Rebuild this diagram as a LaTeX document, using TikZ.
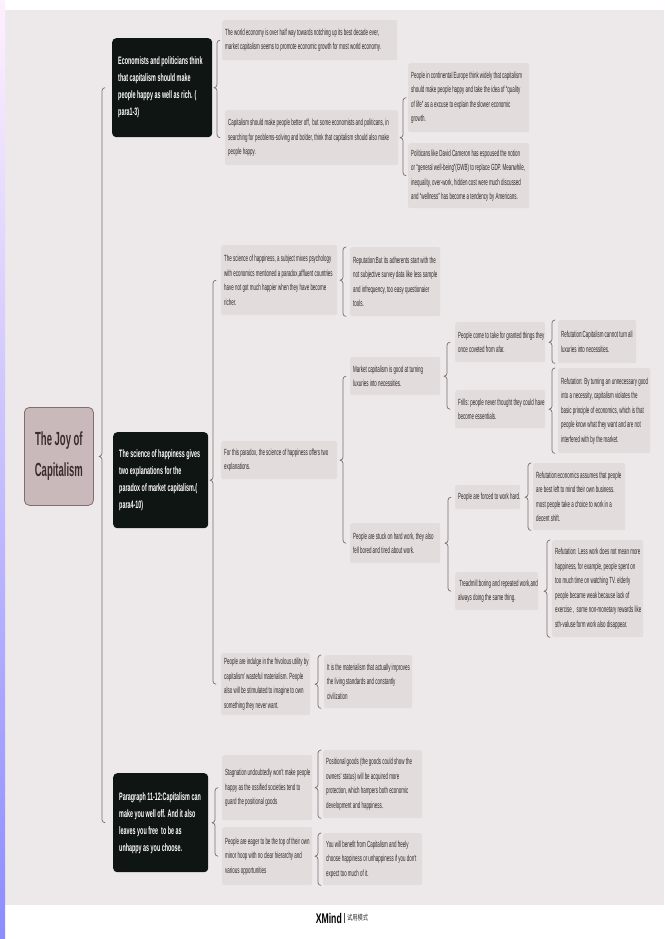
\documentclass[tikz,border=0pt]{standalone}
\usepackage{fontspec}
\setmainfont{Liberation Sans}[FakeStretch=0.5]
\newfontfamily\cjk{Noto Sans CJK SC}[FakeStretch=0.7]
\newfontfamily\xmf{Liberation Sans}[FakeStretch=0.62]
\usetikzlibrary{calc}
\definecolor{bgc}{HTML}{EDE9EA}
\definecolor{boxf}{HTML}{E2DCDD}
\definecolor{txtc}{HTML}{2F2627}
\definecolor{rootf}{HTML}{C9B9BA}
\definecolor{rootb}{HTML}{7F6F71}
\definecolor{roott}{HTML}{3A2B2D}
\definecolor{darkf}{HTML}{0F1512}
\definecolor{brcc}{HTML}{7B6B6E}
\tikzset{
  lvlroot/.style={draw=rootb, line width=0.8pt, fill=rootf, rounded corners=5pt, text=roott,
    font=\fontsize{19}{31}\selectfont\bfseries, align=center, anchor=north west, inner sep=0pt},
  lvlone/.style={fill=darkf, rounded corners=4pt, anchor=north west, inner sep=0pt},
  lvlone text/.style={text=white, font=\fontsize{10.8}{17}\selectfont\bfseries, align=left,
    anchor=west, inner sep=0pt, xshift=6pt},
  txtbox/.style={fill=boxf, rounded corners=2pt, anchor=north west, inner sep=0pt},
  txtbox text/.style={text=txtc, font=\fontsize{8.9}{14.5}\selectfont, align=left,
    anchor=west, inner sep=0pt, xshift=3pt},
  brc/.style={draw=brcc, line width=0.7pt, line cap=round, line join=round}
}
% \bx{style}{name}{x}{y}{w}{h}{text}
\newcommand{\bx}[7]{%
  \node[#1, minimum width=#5pt, minimum height=#6pt] (#2) at (#3,#4) {};
  \node[#1 text] (#2t) at (#2.west) {#7};}
% \brc[offset]{parent}{top point}{bottom point}
\newcommand{\brc}[4][6]{%
  \def\xbb{\x1-#1pt}%
  \draw[brc] let \p0=(#2.east), \p1=(#3), \p2=(#4) in
    ({\xbb+3pt},\y1) to[out=180,in=90] ({\xbb},{\y1-3pt})
    -- ({\xbb},{\y0+3pt}) to[out=-90,in=0] ({\xbb-3pt},\y0)
    to[out=0,in=90] ({\xbb},{\y0-3pt})
    -- ({\xbb},{\y2+3pt}) to[out=-90,in=180] ({\xbb+3pt},\y2);
}
\begin{document}
\begin{tikzpicture}[x=1pt,y=-1pt]
\useasboundingbox (0,0) rectangle (664,939);
\fill[white] (0,0) rectangle (664,939);
\fill[bgc] (5,10) rectangle (664,905);
\shade[top color=white!85!magenta!40!white, bottom color=blue!45!white] (0,0) rectangle (5,939);

% root
\node[lvlroot, minimum width=69pt, minimum height=98pt] (root) at (24,407) {The Joy of\\Capitalism};

% level 1
\bx{lvlone}{a}{112}{38}{100}{99}{Economists and politicians think\\that capitalism should make\\people happy as well as rich. (\\para1-3)}
\bx{lvlone}{b}{113}{432}{95}{96}{The science of happiness gives\\two explanations for the\\paradox of market capitalism.(\\para4-10)}
\bx{lvlone}{c}{113}{773}{95}{99}{Paragraph 11-12:Capitalism can\\make you well off. And it also\\leaves you free\ \ to be as\\unhappy as you choose.}

% under a
\bx{txtbox}{a1}{222}{20}{175}{40}{The world economy is over half way towards notching up its best decade ever,\\market capitalism seems to promote economic growth for most world economy.}
\bx{txtbox}{a2}{225}{110}{173}{55}{Capitalism should make people better off,\ \ but some economists and politicans, in\\searching for peoblems-solving and bolder, think that capitalism should also make\\people happy.}
\bx{txtbox}{a21}{408}{63}{121}{69}{People in continental Europe think widely that capitalism\\should make people happy and take the idea of ``quality\\of life'' as a excuse to explain the slower economic\\growth.}
\bx{txtbox}{a22}{408}{143}{121}{65}{Politicans like David Cameron has espoused the notion\\or ``general well-being''(GWB) to replace GDP. Meanwhile,\\inequality, over-work, hidden cost were much discussed\\and ``wellness'' has become a tendency by Americans.}

% under b
\bx{txtbox}{b1}{221}{245}{116}{70}{The science of happiness, a subject mixes psychology\\with economics mentioned a paradox,affluent countries\\have not got much happier when they have become\\richer.}
\bx{txtbox}{b11}{350}{247}{90}{69}{Reputation:But its adherents start with the\\not subjective survey data like less sample\\and infrequency, too easy questionaier\\tools.}
\bx{txtbox}{b2}{221}{441}{116}{38}{For this paradox, the science of happiness offers two\\explanations.}
\bx{txtbox}{b21}{350}{357}{90}{38}{Market capitalism is good at turning\\luxuries into necessities.}
\bx{txtbox}{b22}{350}{523}{90}{40}{People are stuck on hard work, they also\\fell bored and tired about work.}
\bx{txtbox}{b211}{455}{322}{90}{40}{People come to take for granted things they\\once coveted from afar.}
\bx{txtbox}{b212}{455}{390}{90}{38}{Frills: people never thought they could have\\become essentials.}
\bx{txtbox}{b2111}{558}{320}{78}{43}{Refutation:Capitalism cannot turn all\\luxuries into necessities.}
\bx{txtbox}{b2121}{558}{368}{92}{85}{Refutation: By turning an unnecessary good\\into a necessity, capitalism violates the\\basic principle of economics, which is that\\people know what they want and are not\\interfered with by the market.}
\bx{txtbox}{b221}{455}{485}{65}{24}{People are forced to work hard.}
\bx{txtbox}{b222}{455}{572}{83}{38}{\ Treadmill:boring and repeated work,and\\always doing the same thing.}
\bx{txtbox}{b2211}{533}{463}{92}{67}{Refutation:economics assumes that people\\are best left to mind their own business.\\most people take a choice to work in a\\decent shift.}
\bx{txtbox}{b2221}{552}{540}{91}{97}{Refutation: Less work does not mean more\\happiness, for example, people spent on\\too much time on watching TV. elderly\\people became weak because lack of\\exercise ,\ \ some non-monetary rewards like\\sth-valuse form work also disappear.}
\bx{txtbox}{b3}{221}{653}{89}{62}{People are indulge in the frivolous utility by\\capitalism' wasteful materialism. People\\also will be stimulated to imagine to own\\something they never want.}
\bx{txtbox}{b31}{324}{655}{88}{53}{It is the materialism that actually improves\\the living standards and constantly\\civilization}

% under c
\bx{txtbox}{c1}{222}{755}{90}{65}{Stagnation undoubtedly won't make people\\happy as the ossified societies tend to\\guard the positional goods}
\bx{txtbox}{c2}{222}{827}{90}{58}{People are eager to be the top of their own\\minor hoop with no clear hierarchy and\\various opportunities}
\bx{txtbox}{c11}{323}{750}{99}{68}{Positional goods (the goods could show the\\owners' status) will be acquired more\\protection, which hampers both economic\\development and happiness.}
\bx{txtbox}{c21}{323}{833}{99}{52}{You will benefit from Capitalism and freely\\choose happiness or unhappiness if you don't\\expect too much of it.}

% braces
\brc[10]{root}{a.west}{c.west}
\brc[5]{a}{a1.west}{a2.west}
\brc[5]{a2}{a21.west}{a22.west}
\brc[8]{b}{b1.west}{b3.west}
\brc[7]{b1}{b11.north west}{b11.south west}
\brc[7]{b2}{b21.west}{b22.west}
\brc[8]{b21}{b211.west}{b212.west}
\brc[6]{b211}{b2111.north west}{b2111.south west}
\brc[6]{b212}{b2121.north west}{b2121.south west}
\brc[7]{b22}{b221.west}{b222.west}
\brc[5]{b221}{b2211.north west}{b2211.south west}
\brc[5]{b222}{b2221.north west}{b2221.south west}
\brc[6]{b3}{b31.north west}{b31.south west}
\brc[7]{c}{c1.west}{c2.west}
\brc[5]{c1}{c11.north west}{c11.south west}
\brc[5]{c2}{c21.north west}{c21.south west}

% footer
\node[anchor=east, inner sep=0pt, font=\xmf\fontsize{14}{14}\selectfont\bfseries, text=black] (xm) at (342,918) {XMind};
\node[anchor=west, inner sep=0pt, font=\cjk\fontsize{7.5}{8}\selectfont, text=black!80] (sy) at (347,918) {试用模式};
\draw[black!70, line width=0.5pt] ($(xm.east)+(2.5,-5)$) -- ($(xm.east)+(2.5,5)$);
\end{tikzpicture}
\end{document}
